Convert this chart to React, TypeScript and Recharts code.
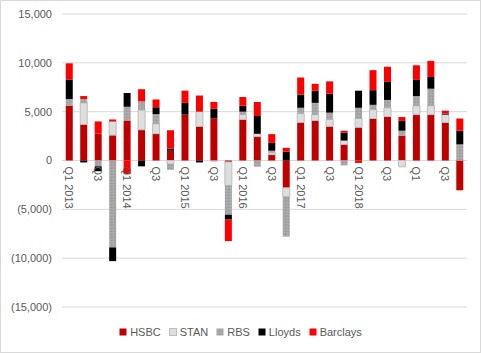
import React from "react";
import {
  Bar,
  BarChart,
  CartesianGrid,
  Legend,
  XAxis,
  YAxis,
} from "recharts";

// quarter labels as they appear on the axis (every other one is shown)
const quarters = [
  "Q1 2013", "Q2", "Q3", "Q4",
  "Q1 2014", "Q2", "Q3", "Q4",
  "Q1 2015", "Q2", "Q3", "Q4",
  "Q1 2016", "Q2", "Q3", "Q4",
  "Q1 2017", "Q2", "Q3", "Q4",
  "Q1 2018", "Q2", "Q3", "Q4",
  "Q1", "Q2", "Q3", "Q4",
];

const hsbc = [5600, 3700, 2750, 2600, 4100, 3150, 2750, 1000, 4700, 3500, 4300, -150, 4200, 2450, 600, -2800, 3900, 4100, 3500, 1650, 3400, 4300, 4500, 2550, 4700, 4700, 3900, -3050];
const stan = [0, 2200, 0, 1400, 0, 2000, 1000, -350, 0, 1500, 0, -2400, 500, 300, 200, -900, 900, 600, 700, 400, 900, 900, 900, -650, 900, 900, 800, 0];
const rbs = [700, 400, -600, -8900, 1400, 900, 1000, -600, 0, 0, -100, -3000, 300, -650, 200, -4100, 600, 1200, 700, -500, 1100, 500, 800, 500, 1000, 1750, 0, 1650];
const lloyds = [2000, -200, -500, -1400, 1400, -600, 700, 200, 1200, -200, 1000, -500, 600, 1800, 800, 900, 1350, 1250, 1950, 800, 1750, 1500, 1850, 1000, 1650, 1200, 100, 1400];
const barclays = [1650, 300, 1250, 200, -1400, 1250, 800, 1900, 1250, 1650, 700, -2200, 900, 1450, 900, 400, 1750, 700, 1250, 200, -250, 2050, 1550, 400, 1500, 1650, 300, 1250];

const yTicks = [-15000, -10000, -5000, 0, 5000, 10000, 15000];

const W = 481;
const H = 353;
const MARGIN = { top: 14, right: 14, left: 0, bottom: 29 };
const LEGEND_H = 16;
const X_AXIS_H = 1;
const PLOT_H = H - MARGIN.top - MARGIN.bottom - LEGEND_H - X_AXIS_H;
const FONT = "'Liberation Sans', Arial, sans-serif";
const TEXT = "#595959";

const SERIES = [
  { key: "HSBC", fill: "#C00000", stroke: undefined },
  { key: "STAN", fill: "#DEDEDE", stroke: "#BDBDBD" },
  { key: "RBS", fill: "url(#rbsDots)", stroke: undefined },
  { key: "Lloyds", fill: "#000000", stroke: undefined },
  { key: "Barclays", fill: "#FF0000", stroke: undefined },
];

const data = quarters.map((q, i) => ({
  idx: i,
  HSBC: hsbc[i],
  STAN: stan[i],
  RBS: rbs[i],
  Lloyds: lloyds[i],
  Barclays: barclays[i],
}));

function fmt(v: number): string {
  const s = Math.abs(v).toLocaleString("en-US");
  return v < 0 ? `(${s})` : s;
}

// labels sit just under the zero line, rotated to read downward
function QuarterTick(props: any) {
  const { x, payload } = props;
  const zeroY = MARGIN.top + PLOT_H / 2;
  const y0 = zeroY + 6;
  return (
    <text
      x={x}
      y={y0}
      transform={`rotate(90, ${x}, ${y0})`}
      textAnchor="start"
      dominantBaseline="central"
      fontSize={11}
      fontFamily={FONT}
      fill={TEXT}
    >
      {quarters[payload.value]}
    </text>
  );
}

function LegendContent() {
  return (
    <div
      style={{
        display: "flex",
        justifyContent: "center",
        alignItems: "center",
        height: LEGEND_H,
        fontSize: 11,
        fontFamily: FONT,
        color: TEXT,
      }}
    >
      {SERIES.map((s, i) => (
        <span
          key={s.key}
          style={{ display: "flex", alignItems: "center", marginRight: i < SERIES.length - 1 ? 8 : 0 }}
        >
          <svg width={8} height={8} style={{ marginRight: 3 }}>
            <rect
              x={0.5}
              y={0.5}
              width={7}
              height={7}
              fill={s.fill}
              stroke={s.stroke ?? "none"}
            />
          </svg>
          {s.key}
        </span>
      ))}
    </div>
  );
}

export default function App() {
  return (
    <div style={{ position: "absolute", left: 0, top: 0, width: W, height: H, background: "#fff", fontFamily: FONT }}>
      <BarChart
        width={W}
        height={H}
        data={data}
        stackOffset="sign"
        margin={MARGIN}
        barCategoryGap="26%"
      >
        <defs>
          <pattern id="rbsDots" width="3" height="3" patternUnits="userSpaceOnUse">
            <rect width="3" height="3" fill="#A6A6A6" />
            <rect x="0" y="0" width="1" height="1" fill="#969696" />
            <rect x="2" y="1" width="1" height="1" fill="#B4B4B4" />
          </pattern>
        </defs>
        <CartesianGrid vertical={false} stroke="#D9D9D9" />
        <XAxis
          dataKey="idx"
          height={X_AXIS_H}
          axisLine={false}
          tickLine={false}
          interval={1}
          tick={<QuarterTick />}
        />
        <YAxis
          domain={[-15000, 15000]}
          ticks={yTicks}
          tickFormatter={fmt}
          axisLine={false}
          tickLine={false}
          width={62}
          tickMargin={4}
          tick={{ fontSize: 11, fontFamily: FONT, fill: TEXT }}
        />
        <Legend
          verticalAlign="bottom"
          content={<LegendContent />}
          wrapperStyle={{ top: 324, bottom: "auto", left: 0, width: W }}
        />
        {SERIES.map((s) => (
          <Bar
            key={s.key}
            dataKey={s.key}
            stackId="a"
            fill={s.fill}
            stroke={s.stroke}
            strokeWidth={s.stroke ? 1 : 0}
            isAnimationActive={false}
          />
        ))}
      </BarChart>
      <div
        style={{
          position: "absolute",
          left: 0,
          top: 0,
          width: W,
          height: H,
          boxSizing: "border-box",
          border: "1px solid #D9D9D9",
          pointerEvents: "none",
        }}
      />
    </div>
  );
}
